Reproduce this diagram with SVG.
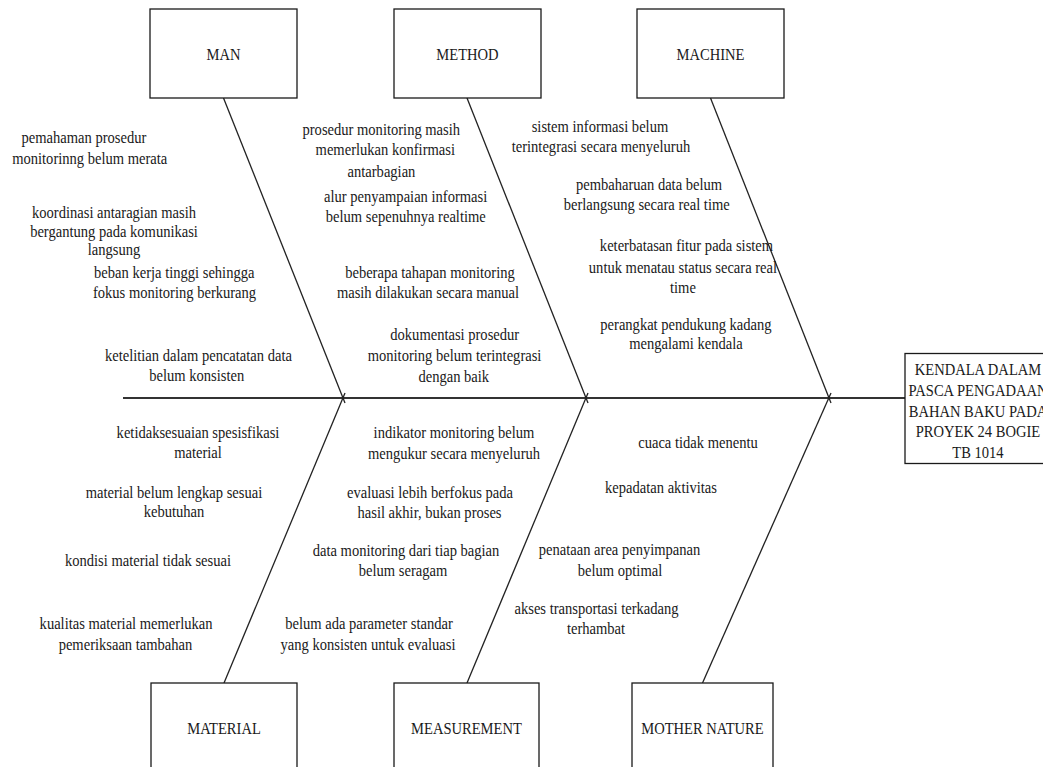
<svg xmlns="http://www.w3.org/2000/svg" width="1043" height="767" viewBox="0 0 1043 767">
<style>
.box{fill:#fff;stroke:#1a1a1a;stroke-width:1.3}
.ln{stroke:#222;stroke-width:1.3;fill:none}
.sp{stroke:#333;stroke-width:1.8;fill:none}
text{font-family:"Liberation Serif","Times New Roman",serif;font-size:16px;fill:#1a1a1a;text-anchor:middle}
</style>
<rect width="1043" height="767" fill="#fff"/>
<g id="connectors">
<line class="sp" x1="123" y1="398" x2="905" y2="398"/>
<line class="ln" x1="223.5" y1="98" x2="345" y2="403"/>
<line class="ln" x1="467" y1="98" x2="588" y2="403"/>
<line class="ln" x1="710.5" y1="98" x2="831" y2="403"/>
<line class="ln" x1="345" y1="393" x2="224" y2="683"/>
<line class="ln" x1="588" y1="393" x2="467" y2="683"/>
<line class="ln" x1="831" y1="393" x2="702.5" y2="683"/>
</g>
<g id="node-man"><rect class="box" x="150" y="9" width="147" height="89"/><text transform="scale(0.91 1)" x="245.6" y="60.3">MAN</text></g>
<g id="node-method"><rect class="box" x="394" y="9" width="147" height="89"/><text transform="scale(0.91 1)" x="513.7" y="60.3">METHOD</text></g>
<g id="node-machine"><rect class="box" x="637" y="9" width="147" height="89"/><text transform="scale(0.91 1)" x="780.8" y="60.3">MACHINE</text></g>
<g id="node-material"><rect class="box" x="151" y="683" width="146" height="89"/><text transform="scale(0.91 1)" x="246.2" y="734.3">MATERIAL</text></g>
<g id="node-measurement"><rect class="box" x="394" y="683" width="145" height="89"/><text transform="scale(0.91 1)" x="512.6" y="734.3">MEASUREMENT</text></g>
<g id="node-mother-nature"><rect class="box" x="632" y="683" width="141" height="89"/><text transform="scale(0.91 1)" x="772" y="734.3">MOTHER NATURE</text></g>
<g id="node-head"><rect class="box" x="905" y="353.5" width="146" height="110"/>
<g transform="scale(0.91 1)">
<text x="1074.7" y="375.5">KENDALA DALAM</text>
<text x="1074.7" y="396.5">PASCA PENGADAAN</text>
<text x="1074.7" y="417">BAHAN BAKU PADA</text>
<text x="1074.7" y="437.5">PROYEK 24 BOGIE</text>
<text x="1074.7" y="458">TB 1014</text>
</g></g>
<g id="causes" transform="scale(0.91 1)">
<text x="92.3" y="143.3">pemahaman prosedur</text>
<text x="98.6" y="164.3">monitorinng belum merata</text>
<text x="125.3" y="218.3">koordinasi antaragian masih</text>
<text x="125.3" y="237">bergantung pada komunikasi</text>
<text x="125.3" y="255.5">langsung</text>
<text x="191.5" y="277.7">beban kerja tinggi sehingga</text>
<text x="191.8" y="297.7">fokus monitoring berkurang</text>
<text x="218.1" y="361">ketelitian dalam pencatatan data</text>
<text x="216.2" y="381">belum konsisten</text>
<text x="217.6" y="437.7">ketidaksesuaian spesisfikasi</text>
<text x="217.6" y="457.7">material</text>
<text x="191.2" y="498.3">material belum lengkap sesuai</text>
<text x="191.2" y="517">kebutuhan</text>
<text x="162.6" y="566">kondisi material tidak sesuai</text>
<text x="138.5" y="629">kualitas material memerlukan</text>
<text x="137.9" y="650">pemeriksaan tambahan</text>
<text x="419" y="135">prosedur monitoring masih</text>
<text x="423.4" y="155.5">memerlukan konfirmasi</text>
<text x="419.2" y="176.7">antarbagian</text>
<text x="445.8" y="201.7">alur penyampaian informasi</text>
<text x="445.9" y="221.7">belum sepenuhnya realtime</text>
<text x="472.5" y="277.7">beberapa tahapan monitoring</text>
<text x="470.3" y="297.7">masih dilakukan secara manual</text>
<text x="499.7" y="340">dokumentasi prosedur</text>
<text x="499.5" y="361">monitoring belum terintegrasi</text>
<text x="498.7" y="381.7">dengan baik</text>
<text x="498.9" y="437.7">indikator monitoring belum</text>
<text x="498.9" y="459">mengukur secara menyeluruh</text>
<text x="472.5" y="497.7">evaluasi lebih berfokus pada</text>
<text x="472" y="517.7">hasil akhir, bukan proses</text>
<text x="446.2" y="556">data monitoring dari tiap bagian</text>
<text x="442.9" y="576">belum seragam</text>
<text x="405.5" y="629">belum ada parameter standar</text>
<text x="404.4" y="650">yang konsisten untuk evaluasi</text>
<text x="659.3" y="131.7">sistem informasi belum</text>
<text x="660.4" y="151.7">terintegrasi secara menyeluruh</text>
<text x="713.2" y="190">pembaharuan data belum</text>
<text x="710.7" y="210">berlangsung secara real time</text>
<text x="754.4" y="251">keterbatasan fitur pada sistem</text>
<text x="750.5" y="273.3">untuk menatau status secara real</text>
<text x="750.5" y="293.3">time</text>
<text x="753.8" y="330">perangkat pendukung kadang</text>
<text x="753.8" y="349">mengalami kendala</text>
<text x="767" y="448.3">cuaca tidak menentu</text>
<text x="726.4" y="493.3">kepadatan aktivitas</text>
<text x="680.8" y="555">penataan area penyimpanan</text>
<text x="681.3" y="575.7">belum optimal</text>
<text x="655.5" y="614.3">akses transportasi terkadang</text>
<text x="655" y="634.3">terhambat</text>
</g>
</svg>
